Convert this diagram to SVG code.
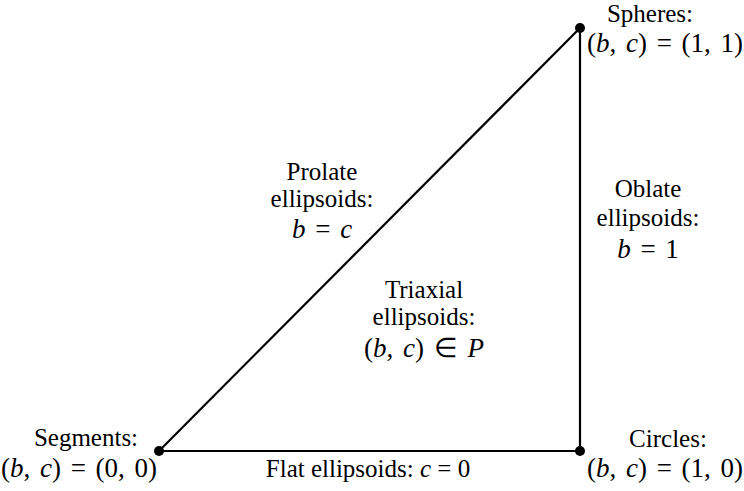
<svg xmlns="http://www.w3.org/2000/svg" width="744" height="491" viewBox="0 0 744 491">
<style>
text{font-family:"Liberation Serif","Times New Roman",serif;font-size:25px;fill:#000;text-anchor:middle}
.m{font-size:27px;word-spacing:3px}
.i{font-style:italic}
.edge{stroke:#000;stroke-width:2.2;fill:none}
.dot{fill:#000}
</style>
<rect width="744" height="491" fill="#fff"/>
<g id="connectors">
<line class="edge" x1="159" y1="451" x2="580" y2="451"/>
<line class="edge" x1="580" y1="451" x2="580" y2="28"/>
<line class="edge" x1="159" y1="451" x2="580" y2="28"/>
</g>
<g id="segments">
<circle class="dot" cx="159" cy="451" r="5"/>
<text x="86" y="446">Segments:</text>
<text class="m" x="79" y="477">(<tspan class="i">b</tspan>, <tspan class="i">c</tspan>) = (0, 0)</text>
</g>
<g id="circles">
<circle class="dot" cx="580" cy="451" r="5"/>
<text x="668" y="447">Circles:</text>
<text class="m" x="665" y="477">(<tspan class="i">b</tspan>, <tspan class="i">c</tspan>) = (1, 0)</text>
</g>
<g id="spheres">
<circle class="dot" cx="580" cy="28" r="5"/>
<text x="650" y="22">Spheres:</text>
<text class="m" x="665" y="52">(<tspan class="i">b</tspan>, <tspan class="i">c</tspan>) = (1, 1)</text>
</g>
<g id="prolate">
<text x="322" y="180">Prolate</text>
<text x="322" y="207">ellipsoids:</text>
<text class="m" x="322" y="238"><tspan class="i">b</tspan> = <tspan class="i">c</tspan></text>
</g>
<g id="oblate">
<text x="648" y="197">Oblate</text>
<text x="648" y="226">ellipsoids:</text>
<text class="m" x="648" y="258"><tspan class="i">b</tspan> = 1</text>
</g>
<g id="triaxial">
<text x="424" y="298">Triaxial</text>
<text x="424" y="325">ellipsoids:</text>
<text class="m" x="424" y="357">(<tspan class="i">b</tspan>, <tspan class="i">c</tspan>) ∈ <tspan class="i">P</tspan></text>
</g>
<g id="flat">
<text x="368" y="477">Flat ellipsoids: <tspan class="i">c</tspan> = 0</text>
</g>
</svg>
